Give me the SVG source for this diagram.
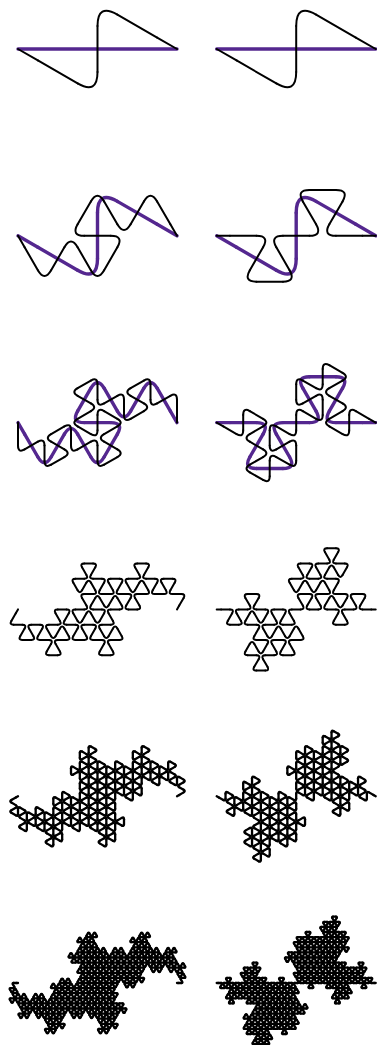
<svg xmlns="http://www.w3.org/2000/svg" width="377" height="1045" viewBox="0 0 377 1045">
<style>
path{fill:none;stroke-linecap:round;stroke-linejoin:round;vector-effect:non-scaling-stroke}
.k{stroke:#000;stroke-width:2}
.d{stroke:#000;stroke-width:2.3}
.v{stroke:#54278f;stroke-width:3.4}
</style>
<defs>
<path id="g" d="M.25,0H.75"/>
<path id="s" d="M0,0H.25"/>
<path id="m" d="M-.25,0Q0,0 -.125,-.216506"/>
<path id="p" d="M-.25,0Q0,0 -.125,.216506"/>
<g id="l1"><use href="#g" transform="rotate(30)"/><use href="#g" transform="translate(.866025,.5) rotate(-90)"/><use href="#g" transform="translate(.866025,-.5) rotate(30)"/><use href="#m" transform="translate(.866025,.5) rotate(30)"/><use href="#p" transform="translate(.866025,-.5) rotate(-90)"/></g>
<g id="l2"><use href="#l1" transform="rotate(30)"/><use href="#l1" transform="translate(1.5,.866025) rotate(-90)"/><use href="#l1" transform="translate(1.5,-.866025) rotate(30)"/><use href="#m" transform="translate(1.5,.866025) rotate(60)"/><use href="#p" transform="translate(1.5,-.866025) rotate(-60)"/></g>
<g id="l3"><use href="#l2" transform="rotate(30)"/><use href="#l2" transform="translate(2.598076,1.5) rotate(-90)"/><use href="#l2" transform="translate(2.598076,-1.5) rotate(30)"/><use href="#m" transform="translate(2.598076,1.5) rotate(90)"/><use href="#p" transform="translate(2.598076,-1.5) rotate(-30)"/></g>
<g id="l4"><use href="#l3" transform="rotate(30)"/><use href="#l3" transform="translate(4.5,2.598076) rotate(-90)"/><use href="#l3" transform="translate(4.5,-2.598076) rotate(30)"/><use href="#m" transform="translate(4.5,2.598076) rotate(120)"/><use href="#p" transform="translate(4.5,-2.598076) rotate(0)"/></g>
<g id="l5"><use href="#l4" transform="rotate(30)"/><use href="#l4" transform="translate(7.794229,4.5) rotate(-90)"/><use href="#l4" transform="translate(7.794229,-4.5) rotate(30)"/><use href="#m" transform="translate(7.794229,4.5) rotate(150)"/><use href="#p" transform="translate(7.794229,-4.5) rotate(30)"/></g>
<g id="l6"><use href="#l5" transform="rotate(30)"/><use href="#l5" transform="translate(13.5,7.794229) rotate(-90)"/><use href="#l5" transform="translate(13.5,-7.794229) rotate(30)"/><use href="#m" transform="translate(13.5,7.794229) rotate(180)"/><use href="#p" transform="translate(13.5,-7.794229) rotate(60)"/></g>
<g id="b1"><use href="#g" transform="rotate(-30)"/><use href="#g" transform="translate(.866025,-.5) rotate(90)"/><use href="#g" transform="translate(.866025,.5) rotate(-30)"/><use href="#p" transform="translate(.866025,-.5) rotate(-30)"/><use href="#m" transform="translate(.866025,.5) rotate(90)"/></g>
<g id="a2"><use href="#b1" transform="rotate(30)"/><use href="#b1" transform="translate(1.5,.866025) rotate(-90)"/><use href="#b1" transform="translate(1.5,-.866025) rotate(30)"/><use href="#m" transform="translate(1.5,.866025) rotate(0)"/><use href="#p" transform="translate(1.5,-.866025) rotate(-120)"/></g>
<g id="b2"><use href="#l1" transform="rotate(-30)"/><use href="#l1" transform="translate(1.5,-.866025) rotate(90)"/><use href="#l1" transform="translate(1.5,.866025) rotate(-30)"/><use href="#p" transform="translate(1.5,-.866025) rotate(0)"/><use href="#m" transform="translate(1.5,.866025) rotate(120)"/></g>
<g id="a3"><use href="#b2" transform="rotate(30)"/><use href="#b2" transform="translate(2.598076,1.5) rotate(-90)"/><use href="#b2" transform="translate(2.598076,-1.5) rotate(30)"/><use href="#m" transform="translate(2.598076,1.5) rotate(30)"/><use href="#p" transform="translate(2.598076,-1.5) rotate(-90)"/></g>
<g id="b3"><use href="#a2" transform="rotate(-30)"/><use href="#a2" transform="translate(2.598076,-1.5) rotate(90)"/><use href="#a2" transform="translate(2.598076,1.5) rotate(-30)"/><use href="#p" transform="translate(2.598076,-1.5) rotate(-30)"/><use href="#m" transform="translate(2.598076,1.5) rotate(90)"/></g>
<g id="a4"><use href="#b3" transform="rotate(30)"/><use href="#b3" transform="translate(4.5,2.598076) rotate(-90)"/><use href="#b3" transform="translate(4.5,-2.598076) rotate(30)"/><use href="#m" transform="translate(4.5,2.598076) rotate(0)"/><use href="#p" transform="translate(4.5,-2.598076) rotate(-120)"/></g>
<g id="b4"><use href="#a3" transform="rotate(-30)"/><use href="#a3" transform="translate(4.5,-2.598076) rotate(90)"/><use href="#a3" transform="translate(4.5,2.598076) rotate(-30)"/><use href="#p" transform="translate(4.5,-2.598076) rotate(0)"/><use href="#m" transform="translate(4.5,2.598076) rotate(120)"/></g>
<g id="a5"><use href="#b4" transform="rotate(30)"/><use href="#b4" transform="translate(7.794229,4.5) rotate(-90)"/><use href="#b4" transform="translate(7.794229,-4.5) rotate(30)"/><use href="#m" transform="translate(7.794229,4.5) rotate(30)"/><use href="#p" transform="translate(7.794229,-4.5) rotate(-90)"/></g>
<g id="b5"><use href="#a4" transform="rotate(-30)"/><use href="#a4" transform="translate(7.794229,-4.5) rotate(90)"/><use href="#a4" transform="translate(7.794229,4.5) rotate(-30)"/><use href="#p" transform="translate(7.794229,-4.5) rotate(-30)"/><use href="#m" transform="translate(7.794229,4.5) rotate(90)"/></g>
<g id="a6"><use href="#b5" transform="rotate(30)"/><use href="#b5" transform="translate(13.5,7.794229) rotate(-90)"/><use href="#b5" transform="translate(13.5,-7.794229) rotate(30)"/><use href="#m" transform="translate(13.5,7.794229) rotate(0)"/><use href="#p" transform="translate(13.5,-7.794229) rotate(-120)"/></g>
</defs>

<g id="row1-left">
<path class="v" d="M18,49H177"/>
<g class="k" transform="translate(18,49) scale(91.8)"><use href="#l1"/><use href="#s" transform="rotate(30)"/><use href="#s" transform="translate(1.73205,0) rotate(210)"/></g>
</g>
<g id="row1-right">
<path class="v" d="M216.7,49H375.7"/>
<g class="k" transform="translate(216.7,49) scale(91.8)"><use href="#l1"/><use href="#s" transform="rotate(30)"/><use href="#s" transform="translate(1.73205,0) rotate(210)"/></g>
</g>

<g id="row2-left">
<g class="v" transform="translate(18,235.8) scale(91.8)"><use href="#l1"/><use href="#s" transform="rotate(30)"/><use href="#s" transform="translate(1.73205,0) rotate(210)"/></g>
<g class="k" transform="translate(18,235.8) scale(53)"><use href="#l2"/><use href="#s" transform="rotate(60)"/><use href="#s" transform="translate(3,0) rotate(240)"/></g>
</g>
<g id="row2-right">
<g class="v" transform="translate(216.7,235.8) scale(91.8)"><use href="#l1"/><use href="#s" transform="rotate(30)"/><use href="#s" transform="translate(1.73205,0) rotate(210)"/></g>
<g class="k" transform="translate(216.7,235.8) scale(53)"><use href="#a2"/><use href="#s"/><use href="#s" transform="translate(3,0) rotate(180)"/></g>
</g>

<g id="row3-left">
<g class="v" transform="translate(18,422.6) scale(53)"><use href="#l2"/><use href="#s" transform="rotate(60)"/><use href="#s" transform="translate(3,0) rotate(240)"/></g>
<g class="k" transform="translate(18,422.6) scale(30.6)"><use href="#l3"/><use href="#s" transform="rotate(90)"/><use href="#s" transform="translate(5.19615,0) rotate(270)"/></g>
</g>
<g id="row3-right">
<g class="v" transform="translate(216.7,422.6) scale(53)"><use href="#a2"/><use href="#s"/><use href="#s" transform="translate(3,0) rotate(180)"/></g>
<g class="k" transform="translate(216.7,422.6) scale(30.6)"><use href="#a3"/><use href="#s" transform="rotate(30)"/><use href="#s" transform="translate(5.19615,0) rotate(210)"/></g>
</g>

<g id="row4-left" class="k" transform="translate(18,609.4) scale(17.667)"><use href="#l4"/><use href="#s" transform="rotate(120)"/><use href="#s" transform="translate(9,0) rotate(300)"/></g>
<g id="row4-right" class="k" transform="translate(216.7,609.4) scale(17.667)"><use href="#a4"/><use href="#s"/><use href="#s" transform="translate(9,0) rotate(180)"/></g>

<g id="row5-left" class="d" transform="translate(18,796.2) scale(10.2)"><use href="#l5"/><use href="#s" transform="rotate(150)"/><use href="#s" transform="translate(15.58846,0) rotate(330)"/></g>
<g id="row5-right" class="d" transform="translate(216.7,796.2) scale(10.2)"><use href="#a5"/><use href="#s" transform="rotate(30)"/><use href="#s" transform="translate(15.58846,0) rotate(210)"/></g>

<g id="row6-left" class="d" transform="translate(18,983) scale(5.889)"><use href="#l6"/><use href="#s" transform="rotate(180)"/><use href="#s" transform="translate(27,0)"/></g>
<g id="row6-right" class="d" transform="translate(216.7,983) scale(5.889)"><use href="#a6"/><use href="#s"/><use href="#s" transform="translate(27,0) rotate(180)"/></g>
</svg>
